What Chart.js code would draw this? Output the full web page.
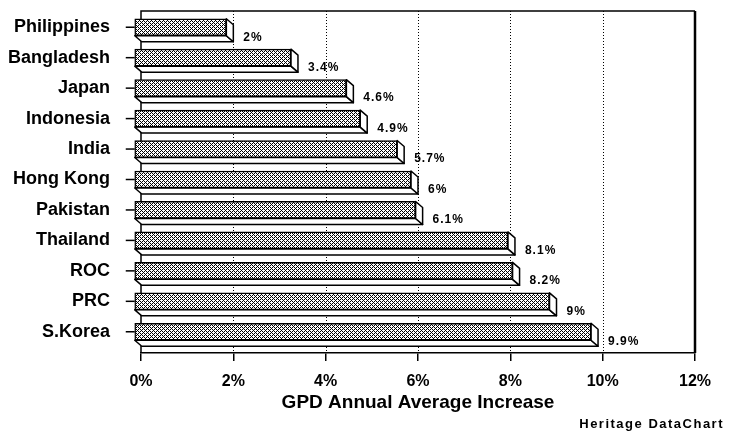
<!DOCTYPE html>
<html>
<head>
<meta charset="utf-8">
<script src="https://cdn.jsdelivr.net/npm/chart.js@4.4.0/dist/chart.umd.min.js"></script>
<style>
html, body { margin: 0; padding: 0; background: #fff; }
#wrap { width: 729px; height: 431px; }
</style>
</head>
<body>
<div id="wrap"><canvas id="growth-chart"></canvas></div>
<script>
// countries, top to bottom
const countries = ["Philippines", "Bangladesh", "Japan", "Indonesia", "India", "Hong Kong",
  "Pakistan", "Thailand", "ROC", "PRC", "S.Korea"]

// GDP annual average increase, percent
const growth = [2, 3.4, 4.6, 4.9, 5.7, 6, 6.1, 8.1, 8.2, 9, 9.9]

// x axis ticks
const x_ticks = [0, 2, 4, 6, 8, 10, 12]
const x_tick_labels = ["0%", "2%", "4%", "6%", "8%", "10%", "12%"]

const FONT = "'Liberation Sans', Arial, Helvetica, sans-serif"
const DX = 7, DY = 6   // depth of the 3d bars

// cross hatch fill for the bar fronts
const tile = document.createElement('canvas')
tile.width = 4; tile.height = 4
const tctx = tile.getContext('2d')
tctx.fillStyle = '#fff'
tctx.fillRect(0, 0, 4, 4)
tctx.fillStyle = '#000'
for (let y = 0; y < 4; y++) {
  for (let x = 0; x < 4; x++) {
    if ((x + y) % 4 == 0 || (x - y + 4) % 4 == 0) tctx.fillRect(x, y, 1, 1)
  }
}
const hatch = document.createElement('canvas').getContext('2d').createPattern(tile, 'repeat')

function poly(ctx, pts) {
  ctx.beginPath()
  ctx.moveTo(pts[0][0], pts[0][1])
  for (let i = 1; i < pts.length; i++) ctx.lineTo(pts[i][0], pts[i][1])
  ctx.closePath()
  ctx.fill()
  ctx.stroke()
}

const box3d = {
  id: 'box3d',
  beforeDatasetsDraw(chart) {
    const { ctx, chartArea: a, scales: { x } } = chart
    const top = a.top - DY - 1
    ctx.save()
    // dotted grid lines
    ctx.strokeStyle = '#000'
    ctx.lineWidth = 1
    ctx.setLineDash([1, 2])
    x_ticks.slice(1, -1).forEach(t => {
      const px = Math.round(x.getPixelForValue(t)) + 0.5
      ctx.beginPath(); ctx.moveTo(px, top); ctx.lineTo(px, a.bottom); ctx.stroke()
    })
    ctx.setLineDash([])
    // frame
    ctx.lineWidth = 1.5
    ctx.beginPath()
    ctx.moveTo(a.left, a.bottom); ctx.lineTo(a.left, top); ctx.lineTo(a.right, top)
    ctx.stroke()
    ctx.lineWidth = 2.5
    ctx.beginPath(); ctx.moveTo(a.right, top); ctx.lineTo(a.right, a.bottom); ctx.stroke()
    // bar sides and category ticks
    ctx.fillStyle = '#fff'
    ctx.lineWidth = 1.5
    ctx.lineJoin = 'round'
    chart.getDatasetMeta(0).data.forEach(bar => {
      const L = bar.base, R = bar.x, T = bar.y - bar.height / 2, B = bar.y + bar.height / 2
      poly(ctx, [[L - DX, B - DY], [R - DX, B - DY], [R, B], [L, B]])
      poly(ctx, [[R - DX, T - DY], [R, T], [R, B], [R - DX, B - DY]])
      ctx.beginPath()
      ctx.moveTo(L - DX - 9, bar.y - DY); ctx.lineTo(L - DX, bar.y - DY)
      ctx.stroke()
    })
    ctx.restore()
  },
  beforeDatasetDraw(chart) {
    chart.ctx.save()
    chart.ctx.translate(-DX, -DY)
  },
  afterDatasetDraw(chart) {
    chart.ctx.restore()
  },
  afterDraw(chart) {
    const ctx = chart.ctx
    ctx.save()
    ctx.fillStyle = '#000'
    ctx.font = "bold 12px " + FONT
    ctx.letterSpacing = '1px'
    ctx.textAlign = 'left'
    ctx.textBaseline = 'middle'
    chart.getDatasetMeta(0).data.forEach((bar, i) => {
      ctx.fillText(growth[i] + '%', bar.x + 10, bar.y + 4)
    })
    ctx.font = "bold 13px " + FONT
    ctx.letterSpacing = '1.5px'
    ctx.textAlign = 'right'
    ctx.fillText('Heritage DataChart', 724, 424)
    ctx.restore()
  }
}

new Chart(document.getElementById('growth-chart'), {
  type: 'bar',
  data: {
    labels: countries,
    datasets: [{
      data: growth,
      backgroundColor: hatch,
      borderColor: '#000',
      borderWidth: 1.5,
      borderSkipped: false,
      barThickness: 17,
      clip: false
    }]
  },
  options: {
    indexAxis: 'y',
    responsive: true,
    maintainAspectRatio: false,
    animation: false,
    layout: { padding: { top: 0, right: 34, left: 0, bottom: 0 } },
    plugins: { legend: { display: false }, tooltip: { enabled: false } },
    scales: {
      x: {
        min: 0,
        max: 12,
        afterBuildTicks: scale => { scale.ticks = x_ticks.map(v => ({ value: v })) },
        afterFit: scale => { scale.height = 78 },
        ticks: {
          color: '#000',
          font: { family: FONT, size: 16, weight: 'bold' },
          padding: 11,
          maxRotation: 0,
          callback: (v, i) => x_tick_labels[i]
        },
        grid: { drawOnChartArea: false, drawTicks: true, tickLength: 8, color: '#000', lineWidth: 1.5 },
        border: { display: true, color: '#000', width: 1.5 },
        title: {
          display: true,
          text: 'GPD Annual Average Increase',
          color: '#000',
          font: { family: FONT, size: 19, weight: 'bold' },
          padding: { top: 0, bottom: 17 }
        }
      },
      y: {
        afterFit: scale => { scale.width = 141; scale.paddingTop = 18; scale.paddingBottom = 0 },
        ticks: {
          color: '#000',
          font: { family: FONT, size: 18, weight: 'bold' },
          padding: 31,
          labelOffset: -6
        },
        grid: { display: false, drawTicks: false },
        border: { display: false }
      }
    }
  },
  plugins: [box3d]
});
</script>
</body>
</html>
